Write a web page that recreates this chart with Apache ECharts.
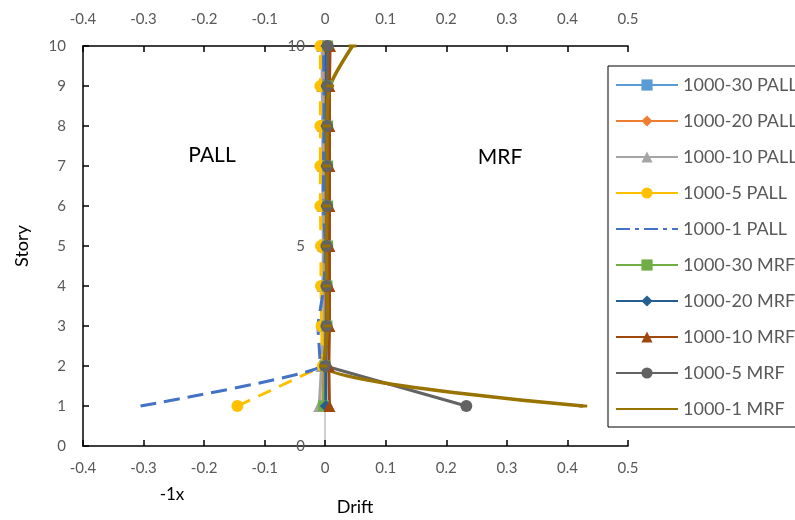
<!DOCTYPE html>
<html>
<head>
<meta charset="utf-8">
<script src="https://cdn.jsdelivr.net/npm/echarts@6/dist/echarts.min.js"></script>
<style>html,body{margin:0;padding:0;background:#fff}#c{width:795px;height:520px}</style>
</head>
<body>
<div id="c"></div>
<script>
const stories = [1,2,3,4,5,6,7,8,9,10];
const xTicks = [-0.4,-0.3,-0.2,-0.1,0,0.1,0.2,0.3,0.4,0.5];
const seriesNames = ['1000-30 PALL','1000-20 PALL','1000-10 PALL','1000-5 PALL','1000-1 PALL','1000-30 MRF','1000-20 MRF','1000-10 MRF','1000-5 MRF','1000-1 MRF'];
const pall30 = [-0.002,-0.001,0.000,0.001,0.001,0.000,0.000,-0.001,-0.001,-0.001];
const pall20 = [-0.004,-0.003,-0.002,-0.002,-0.001,-0.002,-0.002,-0.002,-0.003,-0.003];
const pall10 = [-0.010,-0.006,-0.004,-0.004,-0.003,-0.004,-0.004,-0.004,-0.005,-0.005];
const pall5  = [-0.145,-0.004,-0.006,-0.007,-0.007,-0.008,-0.008,-0.008,-0.008,-0.008];
const pall1  = [-0.305,-0.008,-0.012,-0.002,0.000,-0.003,-0.003,-0.002,-0.002,-0.003];
const mrf30  = [-0.003,0.000,0.003,0.003,0.004,0.004,0.004,0.004,0.004,0.004];
const mrf20  = [0.001,0.001,0.002,0.002,0.003,0.002,0.002,0.002,0.002,0.002];
const mrf10  = [0.007,0.006,0.007,0.007,0.007,0.007,0.007,0.007,0.007,0.008];
const mrf5   = [0.233,0.000,0.002,0.002,0.002,0.003,0.003,0.003,0.003,0.004];
const mrf1   = [0.426,-0.003,0.004,0.003,0.002,0.003,0.003,0.003,0.008,0.045];

const vals = [pall30,pall20,pall10,pall5,pall1,mrf30,mrf20,mrf10,mrf5,mrf1];
const colors = ['#5B9BD5','#ED7D31','#A5A5A5','#FFC000','#4472C4','#70AD47','#255E91','#9E480E','#636363','#997300'];
const symbols = ['rect','diamond','triangle','circle','circle','rect','diamond','triangle','circle','rect'];
const symSizes = [11,12,12,12,0,11,12,12,12,[8,3]];
const dashes = ['solid','solid','solid',[14,9],[16,8],'solid','solid','solid','solid','solid'];
const widths = [3,3,3,3,3,3,3,3,3,3.5];
const smooths = [false,false,false,false,0.12,false,false,false,false,0.25];

const FONT = 'Lato';
const series = seriesNames.map((n,k)=>({
  name:n, type:'line', xAxisIndex:0, yAxisIndex:0,
  data: stories.map((s,i)=>[vals[k][i], s]),
  smooth: smooths[k],
  symbol: symbols[k], symbolSize: symSizes[k],
  showSymbol: k !== 4,
  itemStyle:{color:colors[k]},
  lineStyle:{color:colors[k], width:widths[k], type:dashes[k]},
  emphasis:{disabled:true},
  animation:false
}));

const legendData = seriesNames.map((n,k)=>{
  const o = {name:n};
  if (k===3) o.lineStyle = {type:'solid'};
  if (k===4) { o.lineStyle = {type:[14,5,4,5]}; o.itemStyle = {opacity:0}; }
  if (k===9) { o.itemStyle = {opacity:0}; }
  return o;
});

const chart = echarts.init(document.getElementById('c'), null, {renderer:'canvas'});
chart.setOption({
  animation:false,
  backgroundColor:'#fff',
  grid:{left:83, right:167, top:46, bottom:74, containLabel:false},
  xAxis:[
    {type:'value', position:'bottom', min:-0.4, max:0.5, interval:0.1,
     axisLine:{show:true, onZero:false, lineStyle:{color:'#000', width:1.5}},
     axisTick:{show:true, inside:true, length:6, lineStyle:{color:'#000', width:1.5}},
     axisLabel:{color:'#595959', fontSize:15, fontFamily:FONT, margin:15,
       formatter:v=>String(Math.round(v*10)/10)},
     splitLine:{show:false}},
    {type:'value', position:'top', min:-0.4, max:0.5, interval:0.1,
     axisLine:{show:true, onZero:false, lineStyle:{color:'#000', width:1.5}},
     axisTick:{show:true, inside:true, length:6, lineStyle:{color:'#000', width:1.5}},
     axisLabel:{color:'#595959', fontSize:15, fontFamily:FONT, margin:19,
       formatter:v=>String(Math.round(v*10)/10)},
     splitLine:{show:false}}
  ],
  yAxis:[
    {type:'value', position:'left', min:0, max:10, interval:1,
     axisLine:{show:true, onZero:false, lineStyle:{color:'#000', width:1.5}},
     axisTick:{show:true, inside:true, length:6, lineStyle:{color:'#000', width:1.5}},
     axisLabel:{color:'#595959', fontSize:15, fontFamily:FONT, margin:17},
     splitLine:{show:false}},
    {type:'value', position:'left', offset:-242, min:0, max:10, interval:5,
     axisLine:{show:true, onZero:false, lineStyle:{color:'#BFBFBF', width:1.5}},
     axisTick:{show:false},
     axisLabel:{color:'#595959', fontSize:15, fontFamily:FONT, margin:20},
     splitLine:{show:false}}
  ],
  legend:{
    orient:'vertical', left:608, top:66, width:300,
    padding:[10,10,9,7], itemGap:18, itemWidth:62, itemHeight:14,
    borderColor:'#000', borderWidth:1, backgroundColor:'#fff',
    textStyle:{color:'#595959', fontSize:18, fontFamily:FONT, lineHeight:18},
    data: legendData
  },
  graphic:[
    {type:'text', style:{text:'Story', x:0, y:0, fill:'#000', fontSize:18, fontFamily:FONT, align:'center', verticalAlign:'middle'}, rotation:Math.PI/2, x:22, y:246},
    {type:'text', style:{text:'Drift', x:0, y:0, fill:'#000', fontSize:18, fontFamily:FONT, align:'center', verticalAlign:'middle'}, x:355, y:507},
    {type:'text', style:{text:'-1x', x:0, y:0, fill:'#000', fontSize:17, fontFamily:FONT, align:'center', verticalAlign:'middle'}, x:172, y:495},
    {type:'text', style:{text:'PALL', x:0, y:0, fill:'#000', fontSize:21, fontFamily:FONT, align:'center', verticalAlign:'middle'}, x:212, y:155},
    {type:'text', style:{text:'MRF', x:0, y:0, fill:'#000', fontSize:21, fontFamily:FONT, align:'center', verticalAlign:'middle'}, x:500, y:157}
  ],
  series: series
});
</script>
</body>
</html>
